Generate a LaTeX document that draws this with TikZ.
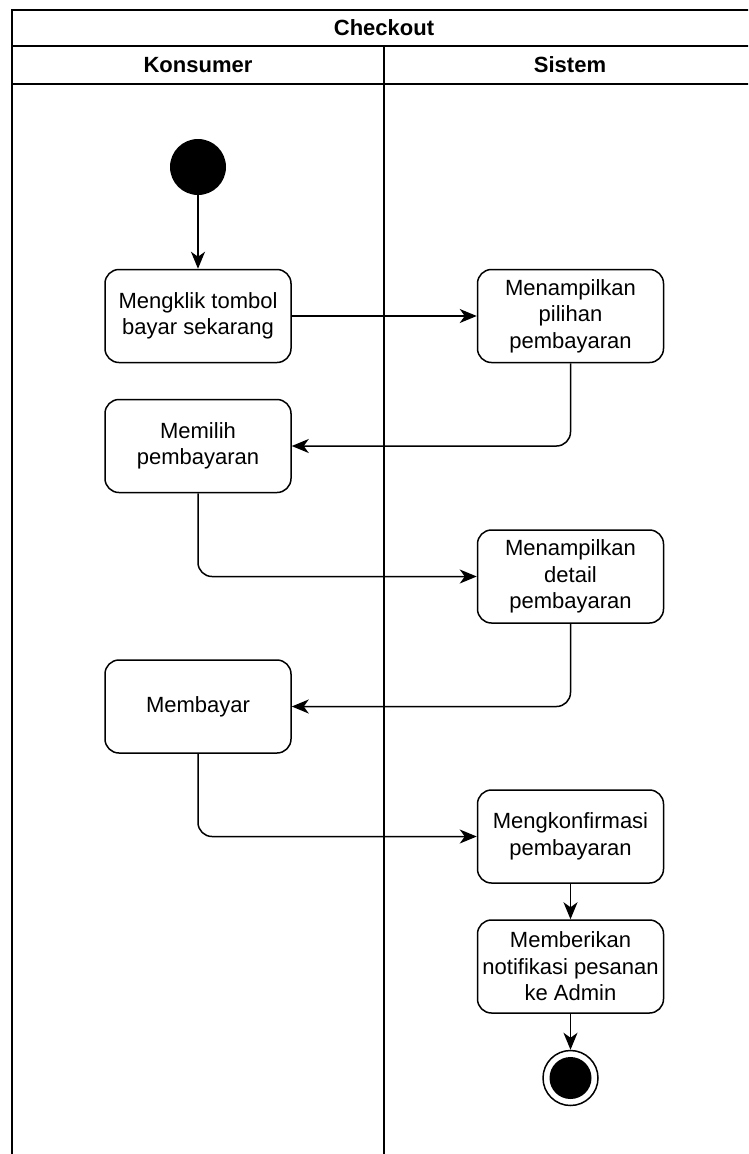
\documentclass[tikz,border=0pt]{standalone}
\usepackage{fontspec}
\setmainfont{Liberation Sans}
\usetikzlibrary{arrows.meta}
\begin{document}
\begin{tikzpicture}[x=1pt,y=-1pt,
  act/.style={draw, line width=1.5pt, rounded corners=14pt, minimum width=186pt, minimum height=93pt,
    align=center, inner sep=0pt, font=\fontsize{22}{26.5}\selectfont},
  flow/.style={line width=1.5pt, -{Stealth[length=17pt,width=14pt,inset=5pt]}, rounded corners=14pt},
  lane/.style={line width=1.6pt},
  hdr/.style={font=\fontsize{22}{26}\selectfont\bfseries}]
\useasboundingbox (0,0) rectangle (748,1154);
\clip (0,0) rectangle (748,1154);
% swimlane frame
\draw[lane] (760,10) -- (12,10) -- (12,1170);
\draw[lane] (12,46) -- (760,46);
\draw[lane] (12,84) -- (760,84);
\draw[lane] (384,46) -- (384,1170);
\node[hdr] (title) at (384,28) {Checkout};
\node[hdr] (lk) at (198,65) {Konsumer};
\node[hdr] (ls) at (570,65) {Sistem};
% nodes
\node[circle, fill, minimum size=56pt, inner sep=0pt] (start) at (198,167) {};
\node[act] (a1) at (198,316) {Mengklik tombol\\bayar sekarang};
\node[act] (a2) at (570.5,316) {Menampilkan\\pilihan\\pembayaran};
\node[act] (a3) at (198,446) {Memilih\\pembayaran};
\node[act] (a4) at (570.5,576.5) {Menampilkan\\detail\\pembayaran};
\node[act] (a5) at (198,706.5) {Membayar};
\node[act] (a6) at (570.5,836.5) {Mengkonfirmasi\\pembayaran};
\node[act] (a7) at (570.5,966.5) {Memberikan\\notifikasi pesanan\\ke Admin};
\node[circle, draw, line width=1.5pt, minimum size=55pt, inner sep=0pt] (end) at (570.5,1078) {};
\node[circle, fill, minimum size=42pt, inner sep=0pt] (endin) at (end) {};
% connectors
\draw[flow] (start) -- (a1);
\draw[flow] (a1) -- (a2);
\draw[flow] (a2.south) |- (a3.east);
\draw[flow] (a3.south) |- (a4.west);
\draw[flow] (a4.south) |- (a5.east);
\draw[flow] (a5.south) |- (a6.west);
\draw[flow] (a6) -- (a7);
\draw[flow] (a7) -- (end);
\end{tikzpicture}
\end{document}
